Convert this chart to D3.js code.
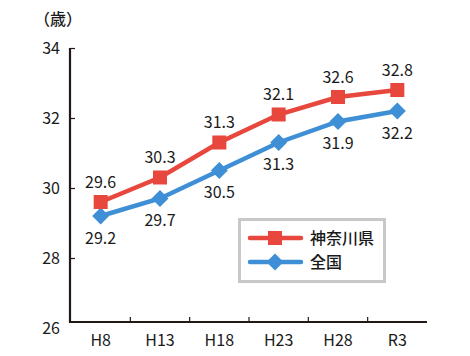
<!DOCTYPE html>
<html><head><meta charset="utf-8">
<script src="https://cdn.jsdelivr.net/npm/d3@7"></script>
<style>body{margin:0;background:#fff}svg{display:block}text{font-family:"Noto Sans CJK JP","Noto Sans",sans-serif;fill:#1a1a1a}</style>
</head><body>
<script>
const categories = ["H8","H13","H18","H23","H28","R3"];
const kanagawa = [29.6,30.3,31.3,32.1,32.6,32.8];
const zenkoku = [29.2,29.7,30.5,31.3,31.9,32.2];
const yTicks = [26,28,30,32,34];
const seriesNames = ["神奈川県","全国"];
const unitLabel = "（歳）";

const W=470,H=356;
const red="#e8473d", blue="#3f8fd6", axisColor="#231815";
const svg=d3.select("body").append("svg").attr("width",W).attr("height",H);
const x=d3.scaleBand().domain(categories).range([71,427]);
const y=d3.scaleLinear().domain([26,34]).range([328,48]);
const axisY=322;

// y axis
const ya=svg.append("g").attr("transform","translate(70,0)")
  .call(d3.axisRight(y).tickValues(yTicks.filter(v=>v>26)).tickSize(5).tickFormat(""));
ya.select(".domain").remove();
ya.selectAll("line").attr("stroke",axisColor).attr("stroke-width",1.2);
svg.append("line").attr("x1",70).attr("x2",70).attr("y1",y(34)).attr("y2",axisY+1)
  .attr("stroke",axisColor).attr("stroke-width",2.2);
svg.selectAll(".ylab").data(yTicks).join("text")
  .attr("x",60).attr("y",d=>y(d)).attr("dy","0.36em").attr("text-anchor","end")
  .attr("font-size",16).text(d=>d);

// x axis
svg.append("line").attr("x1",69).attr("x2",427).attr("y1",axisY).attr("y2",axisY)
  .attr("stroke",axisColor).attr("stroke-width",2.2);
svg.selectAll(".xt").data(categories.slice(1)).join("line")
  .attr("x1",d=>x(d)).attr("x2",d=>x(d)).attr("y1",axisY).attr("y2",axisY-5)
  .attr("stroke",axisColor).attr("stroke-width",1.2);
svg.selectAll(".xlab").data(categories).join("text")
  .attr("x",d=>x(d)+x.bandwidth()/2).attr("y",340).attr("dy","0.36em")
  .attr("text-anchor","middle").attr("font-size",16).text(d=>d);

svg.append("text").attr("x",58).attr("y",19).attr("dy","0.36em").attr("text-anchor","middle")
  .attr("font-size",16).attr("font-weight",500).text(unitLabel);

const cx=d=>x(d)+x.bandwidth()/2;
const line=d3.line().x(d=>cx(d.c)).y(d=>y(d.v));
const kd=categories.map((c,i)=>({c,v:kanagawa[i]}));
const zd=categories.map((c,i)=>({c,v:zenkoku[i]}));

svg.append("path").datum(zd).attr("d",line).attr("fill","none").attr("stroke",blue).attr("stroke-width",4.5);
svg.append("path").datum(kd).attr("d",line).attr("fill","none").attr("stroke",red).attr("stroke-width",4.5);

const diamond=(g,s)=>g.append("rect").attr("x",-s/2).attr("y",-s/2).attr("width",s).attr("height",s).attr("transform","rotate(45)").attr("fill",blue);
svg.selectAll(".zm").data(zd).join("g").attr("transform",d=>`translate(${cx(d.c)},${y(d.v)})`)
  .each(function(){diamond(d3.select(this),12);});
svg.selectAll(".km").data(kd).join("rect")
  .attr("x",d=>cx(d.c)-7).attr("y",d=>y(d.v)-7).attr("width",14).attr("height",14).attr("fill",red);

svg.selectAll(".kl").data(kd).join("text")
  .attr("x",d=>cx(d.c)).attr("y",d=>y(d.v)-20).attr("dy","0.36em").attr("text-anchor","middle")
  .attr("font-size",16).text(d=>d.v.toFixed(1));
svg.selectAll(".zl").data(zd).join("text")
  .attr("x",d=>cx(d.c)).attr("y",d=>y(d.v)+22).attr("dy","0.36em").attr("text-anchor","middle")
  .attr("font-size",16).text(d=>d.v.toFixed(1));

// legend
const lg=svg.append("g");
lg.append("rect").attr("x",239.5).attr("y",219.5).attr("width",145).attr("height",62)
  .attr("fill","#fff").attr("stroke","#c8c8c8").attr("stroke-width",3);
[[red,238],[blue,262]].forEach(([col,yy],i)=>{
  lg.append("line").attr("x1",250).attr("x2",301).attr("y1",yy).attr("y2",yy).attr("stroke",col).attr("stroke-width",4.5).attr("stroke-linecap","round");
  if(i===0) lg.append("rect").attr("x",268).attr("y",yy-7).attr("width",14).attr("height",14).attr("fill",red);
  else { const g=lg.append("g").attr("transform",`translate(275,${yy})`); diamond(g,12); }
  lg.append("text").attr("x",310).attr("y",yy).attr("dy","0.36em").attr("font-size",16).attr("font-weight",500).text(seriesNames[i]);
});
</script>
</body></html>
